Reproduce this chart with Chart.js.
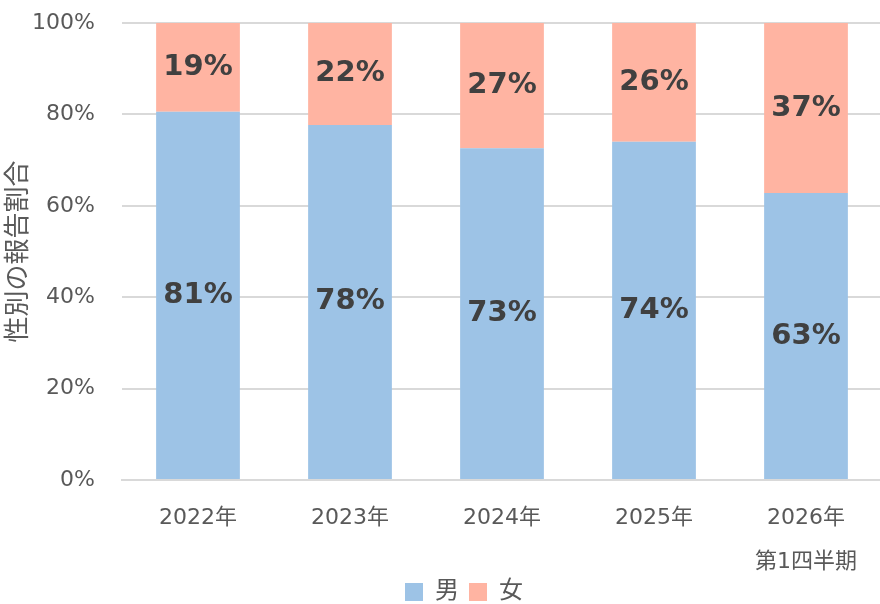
<!DOCTYPE html>
<html lang="ja">
<head>
<meta charset="utf-8">
<title>性別の報告割合</title>
<script src="https://cdn.jsdelivr.net/npm/chart.js"></script>
<style>
    html, body { margin: 0; padding: 0; background: #ffffff; overflow: hidden; }
    #contenedor { width: 884px; height: 604px; }
</style>
</head>
<body>
<div id="contenedor"><canvas id="grafico"></canvas></div>
<script>
// Datos del gráfico
const categorias = [['2022年'], ['2023年'], ['2024年'], ['2025年'], ['2026年', '', '第1四半期']];
const valoresHombre = [80.6, 77.7, 72.6, 74.0, 62.8];
const valoresMujer = [19.4, 22.3, 27.4, 26.0, 37.2];
const ticksEje = [0, 20, 40, 60, 80, 100];

const fuente = "'DejaVu Sans', 'Noto Sans CJK JP', sans-serif";

// Etiquetas dentro de cada segmento
const etiquetasBarras = {
    id: 'etiquetasBarras',
    afterDatasetsDraw(chart) {
        const ctx = chart.ctx;
        ctx.save();
        ctx.font = 'bold 29px ' + fuente;
        ctx.fillStyle = '#404040';
        ctx.textAlign = 'center';
        ctx.textBaseline = 'middle';
        chart.data.datasets.forEach((ds, i) => {
            chart.getDatasetMeta(i).data.forEach((barra, j) => {
                const p = barra.getProps(['x', 'y', 'base'], true);
                ctx.fillText(Math.round(ds.data[j]) + '%', p.x, (p.y + p.base) / 2);
            });
        });
        ctx.restore();
    }
};

// Ajustes finos: leyenda un poco más abajo y a la derecha,
// y el eje X puede dibujar su segunda línea sin recorte
const ajustarLayout = {
    id: 'ajustarLayout',
    afterLayout(chart) {
        const ley = chart.legend;
        if (ley) {
            ley.left += 22;
            ley.right += 22;
            ley.top += 10;
            ley.bottom += 10;
        }
        chart.scales.x.bottom = chart.height;
    }
};

new Chart(document.getElementById('grafico').getContext('2d'), {
    type: 'bar',
    data: {
        labels: categorias,
        datasets: [
            { label: '男', data: valoresHombre, backgroundColor: '#9dc3e6' },
            { label: '女', data: valoresMujer, backgroundColor: '#ffb4a2' }
        ]
    },
    options: {
        responsive: true,
        maintainAspectRatio: false,
        animation: false,
        layout: { padding: { top: 23, right: 0, bottom: 0, left: 0 } },
        datasets: {
            bar: { categoryPercentage: 1, barPercentage: 0.551 }
        },
        scales: {
            x: {
                stacked: true,
                grid: { display: false, drawTicks: false },
                border: { display: true, color: '#d9d9d9', width: 2 },
                ticks: {
                    color: '#595959',
                    padding: 27,
                    font: { family: fuente, size: 22, lineHeight: 1 }
                },
                afterFit(escala) { escala.height = 80; }
            },
            y: {
                stacked: true,
                min: 0,
                max: 100,
                afterBuildTicks(escala) { escala.ticks = ticksEje.map(v => ({ value: v })); },
                grid: { color: '#d9d9d9', lineWidth: 2, drawTicks: false },
                border: { display: false },
                ticks: {
                    color: '#595959',
                    padding: 27,
                    font: { family: fuente, size: 22 },
                    callback: v => v + '%'
                },
                title: {
                    display: true,
                    text: '性別の報告割合',
                    color: '#595959',
                    padding: { top: 4, bottom: 0 },
                    font: { family: fuente, size: 26, lineHeight: 1.2 }
                },
                afterFit(escala) {
                    escala.width = 122;
                    escala.paddingTop = 0;
                    escala.paddingBottom = 0;
                }
            }
        },
        plugins: {
            legend: {
                position: 'bottom',
                labels: {
                    color: '#595959',
                    boxWidth: 18,
                    boxHeight: 18,
                    padding: 10,
                    font: { family: fuente, size: 24 }
                }
            },
            tooltip: { enabled: false }
        }
    },
    plugins: [etiquetasBarras, ajustarLayout]
});
</script>
</body>
</html>
